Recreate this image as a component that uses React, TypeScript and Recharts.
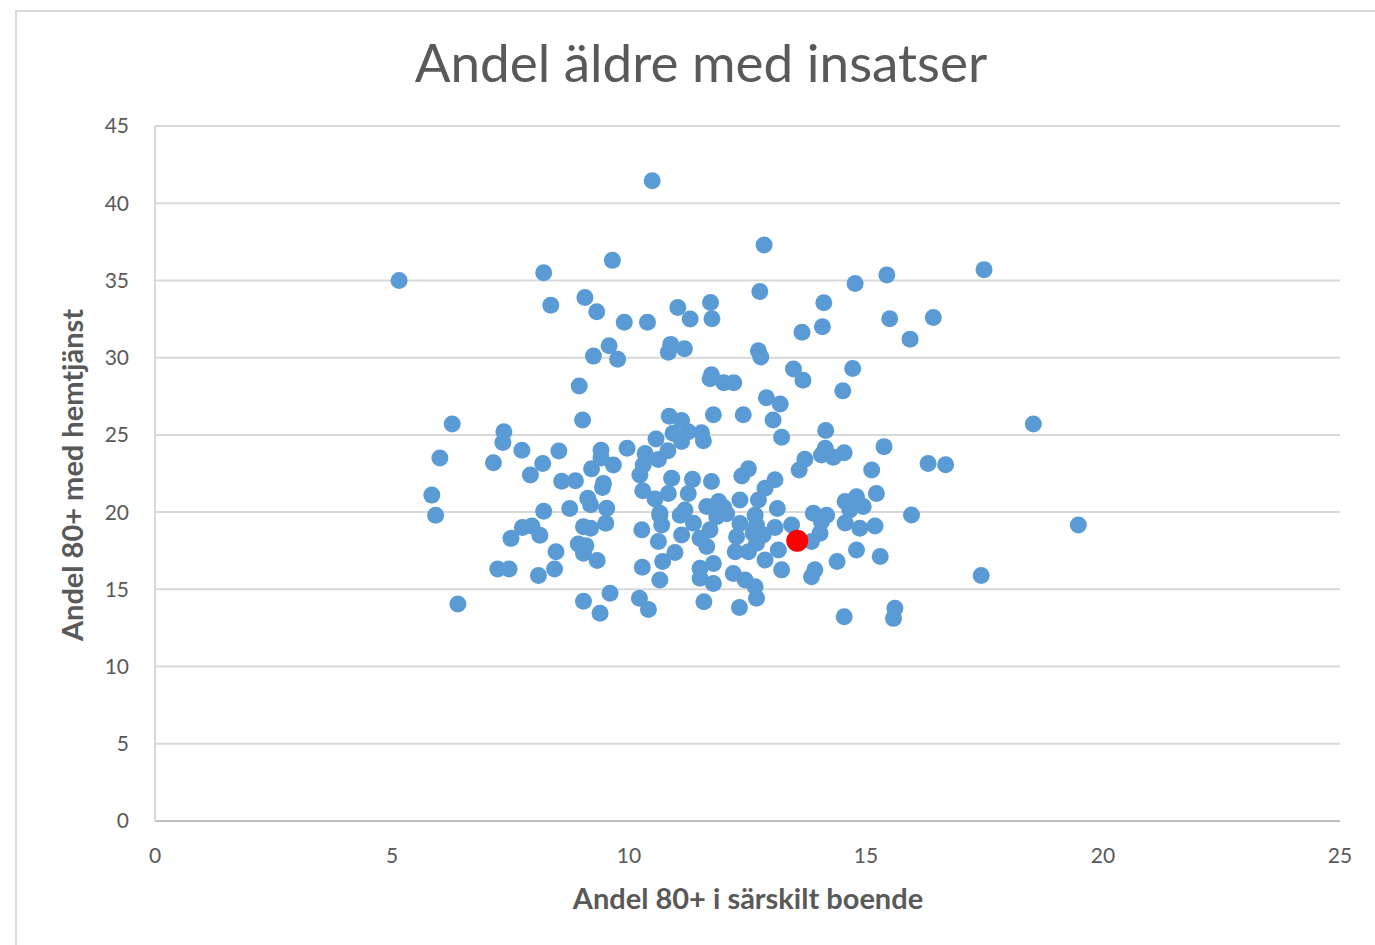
import React from "react";
import { ScatterChart, Scatter, XAxis, YAxis, CartesianGrid } from "recharts";

// Andel 80+ i särskilt boende (x) och Andel 80+ med hemtjänst (y), en kommun per punkt
const boendeX = [
  5.15, 10.49, 9.65, 8.2, 8.35, 9.07, 9.32, 9.9, 10.39, 11.03, 11.29, 9.58, 9.25, 9.76, 10.88, 10.83, 11.17, 8.95,
  12.85, 12.76, 11.72, 11.75, 14.11, 14.08, 13.65, 14.77, 15.44, 17.49, 15.5, 16.42, 15.93, 12.73, 12.78, 13.47,
  13.67, 14.72, 14.51, 11.74, 11.71, 12.0, 12.21, 12.9, 13.19,
  6.27, 6.01, 5.84, 5.92, 6.39, 7.36, 7.34, 7.14, 7.74, 8.18, 7.92, 8.52, 9.02, 8.58, 8.87, 9.41, 9.41, 9.21, 9.44,
  9.13, 9.19, 8.75, 8.2, 9.53, 7.75, 7.95, 8.12, 7.51, 9.04, 9.19, 9.51, 8.93, 9.09, 9.04, 8.46, 9.33, 7.23, 7.47,
  8.43, 8.09, 9.04, 9.39, 9.6,
  10.85, 11.11, 11.78, 12.41, 10.57, 10.93, 11.11, 11.25, 11.53, 11.57, 9.96, 10.34, 10.62, 10.82, 9.67, 10.23,
  10.3, 10.9, 11.34, 11.74, 12.52, 12.38, 10.29, 10.55, 10.83, 11.25, 10.65, 11.18, 11.64, 11.89, 12.34, 9.46, 12.0,
  10.65, 10.27, 10.62, 10.69, 11.11, 11.08, 11.36, 11.5, 11.64, 11.71, 11.85, 12.06, 12.34, 12.27, 12.24, 12.52,
  12.62, 12.66, 10.97, 10.71, 10.28, 10.65, 11.5, 11.78, 11.5, 11.78, 12.2, 12.45, 12.66, 12.69, 10.22, 10.41,
  11.58, 12.33,
  13.04, 13.22, 14.15, 14.14, 14.06, 14.31, 14.54, 15.38, 13.71, 13.59, 15.12, 15.22, 14.56, 14.8, 14.94, 14.66,
  13.08, 12.87, 12.73, 13.13, 13.89, 14.17,
  13.08, 13.43, 12.69, 12.83, 12.69, 12.87, 13.15, 13.22, 13.85, 13.92, 13.85, 14.06, 14.03, 14.39, 14.8, 15.3,
  14.56, 14.87, 15.19, 14.54, 15.58, 15.61,
  18.53, 16.31, 16.68, 15.96, 19.48, 17.43,
];

const hemtjanstY = [
  35.0, 41.46, 36.3, 35.5, 33.4, 33.9, 32.97, 32.3, 32.3, 33.25, 32.5, 30.77, 30.1, 29.9, 30.86, 30.35, 30.57, 28.17,
  37.3, 34.28, 33.57, 32.52, 33.56, 32.0, 31.64, 34.8, 35.36, 35.7, 32.52, 32.6, 31.2, 30.44, 30.04, 29.27,
  28.54, 29.3, 27.85, 28.89, 28.63, 28.37, 28.37, 27.4, 27.0,
  25.7, 23.5, 21.1, 19.8, 14.05, 25.2, 24.5, 23.2, 24.0, 23.15, 22.4, 23.96, 25.97, 22.0, 22.03, 24.0, 23.5, 22.8, 21.6,
  20.9, 20.47, 20.24, 20.05, 20.25, 19.0, 19.1, 18.5, 18.3, 19.06, 18.95, 19.28, 17.94, 17.83, 17.33, 17.44, 16.86,
  16.32, 16.32, 16.32, 15.89, 14.23, 13.45, 14.74,
  26.2, 25.93, 26.3, 26.3, 24.74, 25.1, 24.57, 25.2, 25.14, 24.62, 24.13, 23.8, 23.4, 23.98, 23.05, 22.4,
  23.05, 22.2, 22.12, 21.98, 22.8, 22.34, 21.39, 20.85, 21.2, 21.2, 19.93, 20.14, 20.36, 20.68, 20.79, 21.86, 20.3,
  19.8, 18.85, 18.1, 19.17, 18.52, 19.8, 19.28, 18.3, 17.77, 18.85, 19.7, 19.9, 19.27, 18.41, 17.44, 17.44,
  18.63, 19.8, 17.38, 16.8, 16.43, 15.6, 16.36, 16.68, 15.72, 15.38, 16.03, 15.6, 15.17, 14.42, 14.42, 13.7,
  14.2, 13.83,
  25.97, 24.85, 25.28, 24.14, 23.7, 23.55, 23.85, 24.24, 23.42, 22.73, 22.73, 21.2, 20.68, 21.0, 20.36, 20.14,
  22.09, 21.55, 20.79, 20.24, 19.93, 19.8,
  19.0, 19.17, 19.17, 18.52, 17.98, 16.9, 17.55, 16.26, 15.82, 16.26, 18.1, 19.38, 18.63, 16.8, 17.55, 17.12,
  19.3, 18.95, 19.1, 13.23, 13.12, 13.77,
  25.7, 23.15, 23.06, 19.82, 19.17, 15.89,
];

// den markerade kommunen
const markeradX = [13.55];
const markeradY = [18.15];

const xTicks = [0, 5, 10, 15, 20, 25];
const yTicks = [0, 5, 10, 15, 20, 25, 30, 35, 40, 45];

const kommuner = boendeX.map((x, i) => ({ x, y: hemtjanstY[i] }));
const markerad = markeradX.map((x, i) => ({ x, y: markeradY[i] }));

const FONT = "Lato, 'Open Sans', sans-serif";
const TEXT = "#595959";

const Dot = (fill: string, r: number) => (props: any) => (
  <circle cx={props.cx} cy={props.cy} r={r} fill={fill} />
);

export default function App() {
  return (
    <div
      style={{
        position: "absolute",
        left: 0,
        top: 0,
        width: 1375,
        height: 945,
        overflow: "hidden",
        background: "#fff",
        fontFamily: FONT,
      }}
    >
      <div
        style={{
          position: "absolute",
          left: 15,
          top: 10,
          width: 1500,
          height: 1100,
          border: "2px solid #d9d9d9",
        }}
      />
      <div
        style={{
          position: "absolute",
          left: 0,
          width: 1402,
          top: 28,
          textAlign: "center",
          fontSize: 53,
          color: TEXT,
          lineHeight: "68px",
        }}
      >
        Andel äldre med insatser
      </div>
      <div
        style={{
          position: "absolute",
          left: 548,
          width: 400,
          top: 880,
          textAlign: "center",
          fontSize: 29,
          fontWeight: 700,
          color: TEXT,
          lineHeight: "36px",
        }}
      >
        Andel 80+ i särskilt boende
      </div>
      <div
        style={{
          position: "absolute",
          left: 72 - 200,
          width: 400,
          top: 475 - 18,
          textAlign: "center",
          fontSize: 29,
          fontWeight: 700,
          color: TEXT,
          lineHeight: "36px",
          transform: "rotate(-90deg)",
        }}
      >
        Andel 80+ med hemtjänst
      </div>
      <div style={{ position: "absolute", left: 0, top: 0 }}>
        <ScatterChart width={1375} height={945} margin={{ top: 126, right: 35, bottom: 64, left: 95 }}>
          <CartesianGrid vertical={false} stroke="#d9d9d9" strokeWidth={2} />
          <XAxis
            type="number"
            dataKey="x"
            domain={[0, 25]}
            ticks={xTicks}
            height={60}
            tickLine={false}
            axisLine={{ stroke: "#bfbfbf", strokeWidth: 2 }}
            tickMargin={21}
            tick={{ fill: TEXT, fontSize: 21, fontFamily: FONT }}
          />
          <YAxis
            type="number"
            dataKey="y"
            domain={[0, 45]}
            ticks={yTicks}
            width={60}
            tickLine={false}
            axisLine={{ stroke: "#d9d9d9", strokeWidth: 2 }}
            tickMargin={20}
            tick={{ fill: TEXT, fontSize: 21, fontFamily: FONT }}
          />
          <Scatter data={kommuner} fill="#5b9bd5" shape={Dot("#5b9bd5", 8.5)} isAnimationActive={false} />
          <Scatter data={markerad} fill="#ff0000" shape={Dot("#ff0000", 11)} isAnimationActive={false} />
        </ScatterChart>
      </div>
    </div>
  );
}
